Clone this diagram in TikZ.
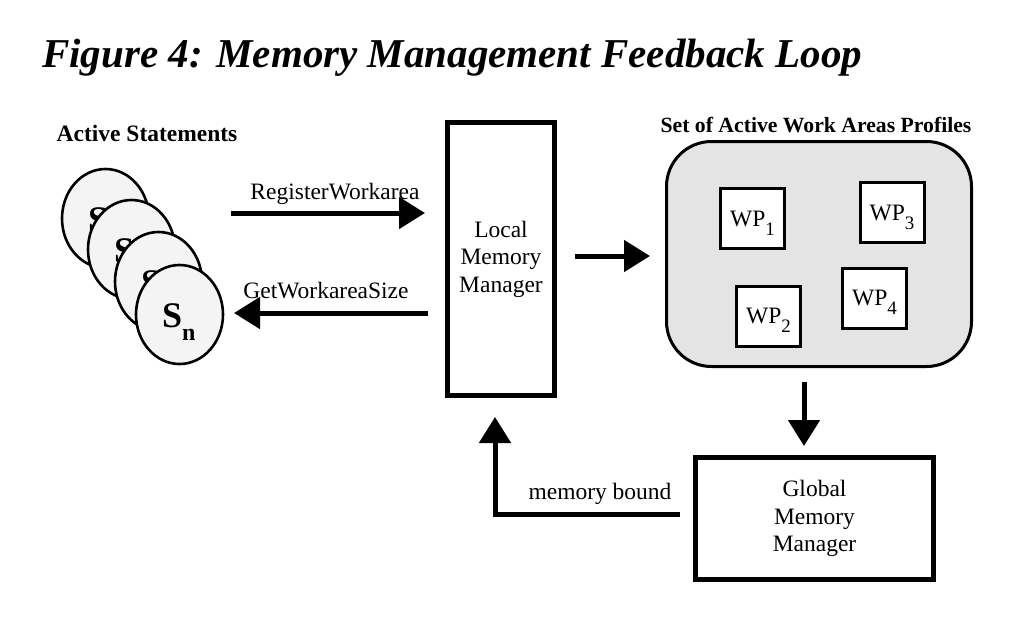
\documentclass[tikz,border=0pt]{standalone}
\usepackage{fontspec}
\setmainfont{Liberation Serif}
\usetikzlibrary{arrows.meta,calc,shapes.geometric}
\definecolor{stmtfill}{HTML}{F4F4F4}
\definecolor{setfill}{HTML}{E4E4E4}
\newcommand{\sublab}[1]{S\raisebox{-13pt}{\fontsize{24}{24}\selectfont #1}}
\newcommand{\wpsub}[1]{WP\smash{\raisebox{-9pt}{\fontsize{19}{19}\selectfont #1}}}
\begin{document}
\begin{tikzpicture}[x=1pt,y=-1pt,
  txt/.style={font=\fontsize{23.5}{27}\selectfont, inner sep=0pt},
  boldtxt/.style={font=\fontsize{23.5}{27}\selectfont\bfseries, inner sep=0pt},
  arr/.style={line width=5pt,-{Triangle[length=26pt,width=31pt]}},
  stmt/.style={ellipse, draw, line width=2.6pt, fill=stmtfill, minimum width=87pt, minimum height=99pt, inner sep=0pt},
  slab/.style={anchor=base west, inner sep=0pt, font=\fontsize{36}{36}\selectfont\bfseries},
  mgr/.style={draw, line width=5pt, align=center, font=\fontsize{23.5}{27.5}\selectfont, inner sep=0pt},
  wp/.style={draw, line width=3pt, fill=white, minimum width=64pt, minimum height=60pt, inner sep=0pt, font=\fontsize{23.5}{27}\selectfont}
]
\useasboundingbox (0,0) rectangle (1036,630);

% title
\node[anchor=base west, inner sep=0pt, font=\fontsize{41}{45}\selectfont\bfseries\itshape] (title) at (42,67) {Figure 4: Memory Management Feedback Loop};

% active statements
\node[boldtxt, anchor=base] (actlab) at (147,141) {Active Statements};
\node[stmt] (c1) at (105.5,218.5) {};
\node[slab] (s1) at ($(c1.center)+(-17.5,12.5)$) {S};
\node[stmt] (c2) at (131.5,249.5) {};
\node[slab] (s2) at ($(c2.center)+(-17.5,12.5)$) {S};
\node[stmt] (c3) at (158.5,281.5) {};
\node[slab] (s3) at ($(c3.center)+(-17.5,12.5)$) {S};
\node[stmt] (c4) at (179.5,314.5) {};
\node[slab] (s4) at ($(c4.center)+(-17.5,12.5)$) {\sublab{n}};

% local memory manager
\node[mgr, minimum width=107pt, minimum height=273pt] (lmm) at (501,259) {Local\\Memory\\Manager};

% set of active work area profiles
\node[boldtxt, anchor=base, font=\fontsize{21.7}{25}\selectfont\bfseries] (setlab) at (816,132) {Set of Active Work Areas Profiles};
\node[draw, line width=3pt, rounded corners=45pt, fill=setfill, minimum width=305pt, minimum height=225pt, inner sep=0pt] (set) at (819,254) {};
\node[wp] (wp1) at (752.5,218.5) {\wpsub{1}};
\node[wp] (wp3) at (892,212.5) {\wpsub{3}};
\node[wp] (wp2) at (768.5,316) {\wpsub{2}};
\node[wp] (wp4) at (874.5,298) {\wpsub{4}};

% global memory manager
\node[mgr, minimum width=238pt, minimum height=122pt] (gmm) at (814.5,518.5) {Global\\Memory\\Manager};

% connectors
\coordinate (rwstart) at (231,213);
\draw[arr] (rwstart) -- ([xshift=-20pt,yshift=46pt]lmm.west);
\node[txt, anchor=base] (rwlab) at (335,199) {RegisterWorkarea};

\coordinate (gwend) at (234,313);
\draw[arr] ([xshift=-17pt,yshift=-54pt]lmm.west) -- (gwend);
\node[txt, anchor=base] (gwlab) at (326,298) {GetWorkareaSize};

\draw[arr] ($(lmm.east)+(18,-3)$) -- ($(set.west |- lmm.east)+(-15,-3)$);

\draw[arr] ($(set.south)+(-15,14)$) -- ($(gmm.north)+(-10.5,-9)$);

\draw[arr] ($(gmm.west)+(-13,-4.5)$) -| ($(lmm.south)+(-6,19)$);
\node[txt, anchor=base] (mblab) at (600,499) {memory bound};
\end{tikzpicture}
\end{document}
